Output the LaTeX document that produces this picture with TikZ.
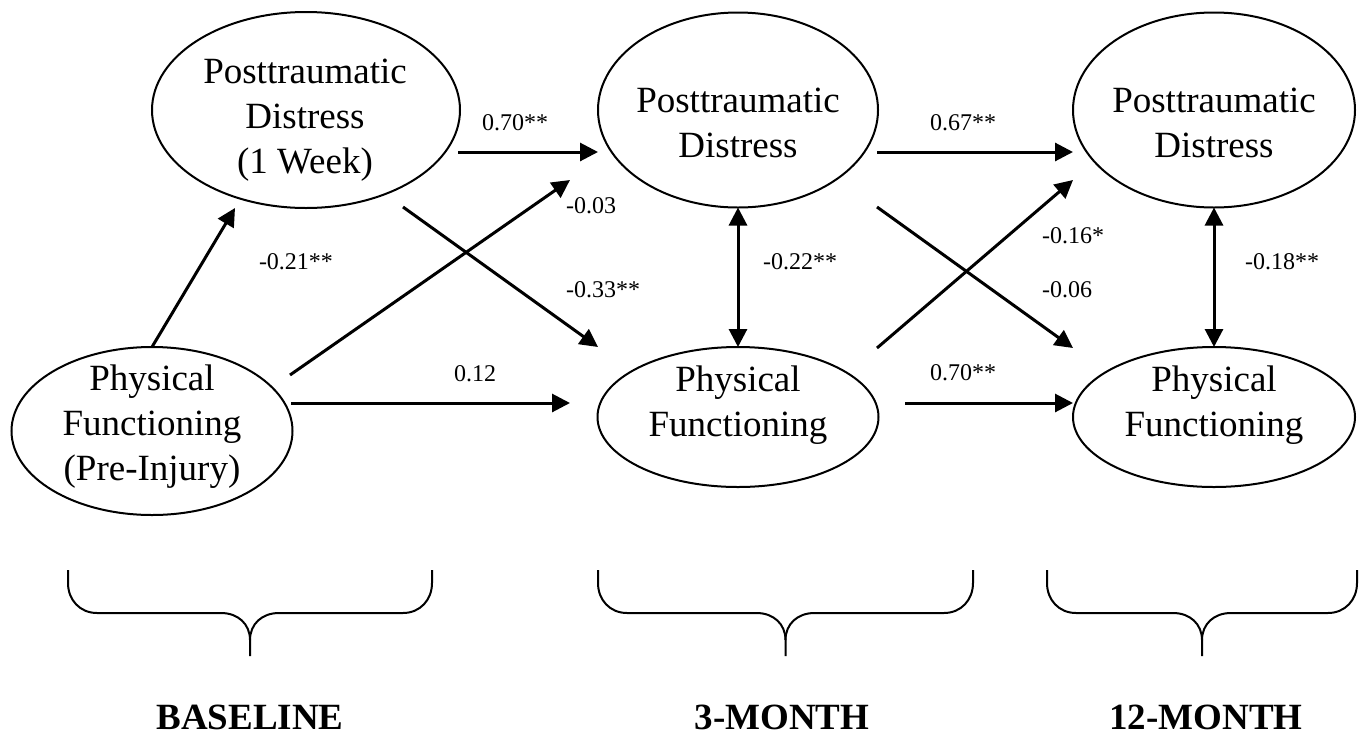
\documentclass[tikz,border=0pt]{standalone}
\usepackage{fontspec}
\setmainfont{Liberation Serif}
\usetikzlibrary{arrows.meta,shapes.geometric,calc}
\begin{document}
\begin{tikzpicture}[x=1pt,y=-1pt,
  ell/.style={draw, ellipse, line width=2pt, inner sep=0pt, outer sep=0pt},
  nodetext/.style={align=center, inner sep=0pt, font=\fontsize{37}{45}\selectfont},
  coef/.style={inner sep=0pt, font=\fontsize{24}{28}\selectfont},
  period/.style={inner sep=0pt, font=\bfseries\fontsize{37}{40}\selectfont},
  conn/.style={line width=3pt, -{Triangle[length=18pt,width=18pt]}},
  both/.style={line width=3pt, {Triangle[length=18pt,width=18pt]}-{Triangle[length=18pt,width=18pt]}},
  bracestyle/.style={line width=2pt}
]
\fill[white] (0,0) rectangle (1363,737);
\useasboundingbox (0,0) rectangle (1363,737);

% ellipses
\node[ell, minimum width=308pt, minimum height=196pt] (pd1) at (306,110) {};
\node[ell, minimum width=280pt, minimum height=195pt] (pd3) at (738,110) {};
\node[ell, minimum width=282pt, minimum height=195pt] (pd12) at (1214,110) {};
\node[ell, minimum width=281pt, minimum height=168pt] (pf1) at (152,431) {};
\node[ell, minimum width=281pt, minimum height=140pt] (pf3) at (738,417) {};
\node[ell, minimum width=282pt, minimum height=140pt] (pf12) at (1214,417) {};

% ellipse texts
\node[nodetext] (pd1t) at (305,120.5) {Posttraumatic\\Distress\\(1 Week)};
\node[nodetext] (pd3t) at (738,122.5) {Posttraumatic\\Distress};
\node[nodetext] (pd12t) at (1214,122.5) {Posttraumatic\\Distress};
\node[nodetext] (pf1t) at (152,426.5) {Physical\\Functioning\\(Pre-Injury)};
\node[nodetext] (pf3t) at (738,405) {Physical\\Functioning};
\node[nodetext] (pf12t) at (1214,405) {Physical\\Functioning};

% connectors
\draw[conn] ($(pf1)+(0,-84)$) -- ($(pd1)+(-71,98)$);
\draw[conn] ($(pf1)+(138,-56)$) -- ($(pd3)+(-168,70)$);
\draw[conn] ($(pd1)+(97,97)$) -- ($(pf3)+(-140,-70)$);
\draw[conn] ($(pd1)+(152,42)$) -- ($(pd3)+(-140,42)$);
\draw[conn] ($(pf1)+(139,-28)$) -- ($(pf3)+(-168,-14)$);
\draw[both] (pd3.south) -- (pf3.north);
\draw[conn] ($(pd3)+(139,42)$) -- ($(pd12)+(-141,42)$);
\draw[conn] ($(pd3)+(139,97)$) -- ($(pf12)+(-141,-69)$);
\draw[conn] ($(pf3)+(139,-69)$) -- ($(pd12)+(-141,70)$);
\draw[conn] ($(pf3)+(167,-14)$) -- ($(pf12)+(-141,-14)$);
\draw[both] (pd12.south) -- (pf12.north);

% coefficients
\node[coef] (c1) at (515,123) {0.70**};
\node[coef] (c2) at (591,206) {-0.03};
\node[coef] (c3) at (296,262) {-0.21**};
\node[coef] (c4) at (603,290) {-0.33**};
\node[coef] (c5) at (475,374) {0.12};
\node[coef] (c6) at (800,262) {-0.22**};
\node[coef] (c7) at (963,123) {0.67**};
\node[coef] (c8) at (1073,236) {-0.16*};
\node[coef] (c9) at (1067,290) {-0.06};
\node[coef] (c10) at (1282,262) {-0.18**};
\node[coef] (c11) at (963,373) {0.70**};

% braces
\foreach \l/\r in {68/432, 598/973, 1047/1357} {
  \pgfmathsetmacro{\m}{(\l+\r)/2}
  \draw[bracestyle] (\l,570) -- (\l,583) .. controls (\l,600) and (\l+12,613) .. (\l+29,613)
     -- (\m-29,613) .. controls (\m-12,613) and (\m,624) .. (\m,640) -- (\m,656);
  \draw[bracestyle] (\r,570) -- (\r,583) .. controls (\r,600) and (\r-12,613) .. (\r-29,613)
     -- (\m+29,613) .. controls (\m+12,613) and (\m,624) .. (\m,640);
}

% period labels
\node[period] (base) at (250,717) {BASELINE};
\node[period] (m3) at (782,717) {3-MONTH};
\node[period] (m12) at (1206,717) {12-MONTH};
\end{tikzpicture}
\end{document}
